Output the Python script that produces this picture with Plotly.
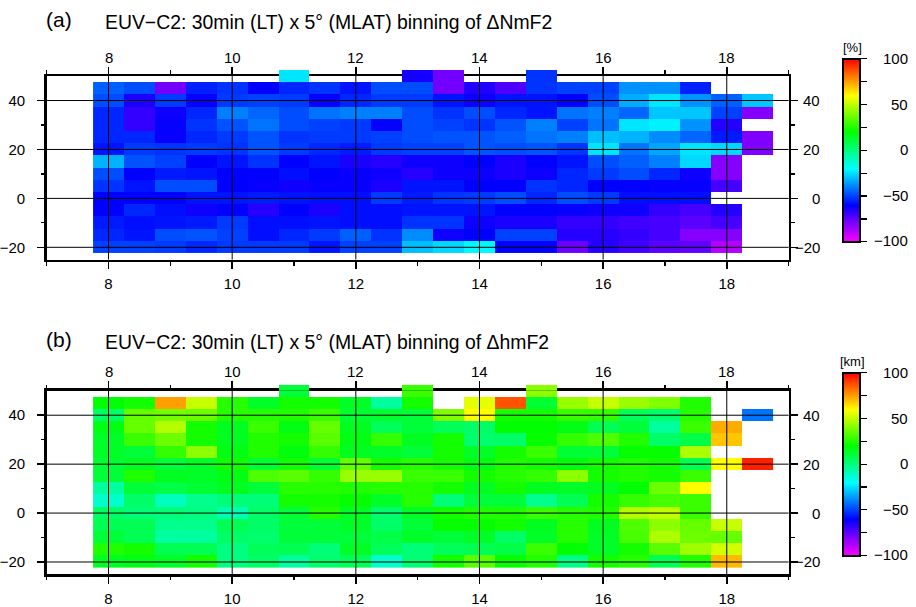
import plotly.graph_objects as go

# ---------------- data ----------------
LT = [8.0, 8.5, 9.0, 9.5, 10.0, 10.5, 11.0, 11.5, 12.0, 12.5, 13.0,
      13.5, 14.0, 14.5, 15.0, 15.5, 16.0, 16.5, 17.0, 17.5, 18.0, 18.5]
MLAT = [-20, -15, -10, -5, 0, 5, 10, 15, 20, 25, 30, 35, 40, 45, 50]
N = None

# rows follow MLAT (bottom -> top), columns follow LT
dNmF2 = [
    [-50, -50, -51, -54, -51, -51, -51, -57, -50, -50, -30, -26, -21, -60, -60, -77, -66, -70, -74, -75, -88, N],
    [-54, -57, -48, -47, -50, -58, -54, -51, -45, -52, -38, -62, -60, -50, -50, -66, -66, -68, -71, -81, -81, N],
    [-56, -58, -57, -56, -51, -58, -58, -57, -58, -58, -52, -52, -62, -64, -64, -68, -68, -70, -71, -74, -71, N],
    [-60, -54, -58, -62, -60, -66, -60, -64, -58, -58, -57, -57, -57, -60, -60, -61, -62, -62, -68, -71, -66, N],
    [-60, -60, -60, -57, -57, -56, -57, -58, -58, -51, -56, -52, -51, -48, -54, -48, -51, -58, -58, -58, N, N],
    [-52, -57, -48, -48, -60, -61, -62, -61, -61, -64, -57, -57, -60, -60, -52, -54, -60, -60, -61, -61, -71, N],
    [-48, -60, -56, -57, -60, -60, -58, -60, -61, -62, -66, -62, -62, -64, -62, -54, -51, -48, -54, -62, -81, N],
    [-32, -47, -50, -60, -57, -52, -60, -57, -64, -66, -62, -62, -60, -64, -60, -57, -48, -45, -40, -26, -81, N],
    [-57, -51, -52, -51, -52, -47, -51, -54, -56, -51, -50, -50, -47, -48, -47, -52, -24, -42, -34, -24, -26, -80],
    [-54, -54, -61, -54, -51, -47, -52, -51, -51, -50, -48, -47, -47, -45, -42, -40, -30, -32, -38, -44, -56, -80],
    [-54, -68, -61, -52, -47, -42, -48, -50, -51, -61, -48, -50, -52, -47, -40, -50, -42, -24, -22, -37, -66, N],
    [-54, -68, -62, -54, -40, -44, -48, -42, -40, -40, -48, -52, -48, -54, -57, -42, -40, -44, -29, -29, -50, -81],
    [-48, -64, -51, -61, -51, -50, -51, -61, -54, -51, -51, -57, -62, -57, -57, -60, -48, -33, -24, -37, -45, -29],
    [-45, -48, -78, -55, -52, -60, -54, -52, -57, -48, -48, -78, -65, -72, -52, -50, -50, -37, -37, -55, N, N],
    [N, N, N, N, N, N, -24, N, N, N, -63, -78, N, N, -52, N, N, N, N, N, N, N],
]

dhmF2 = [
    [15, 17, 14, 23, 0, 4, -5, 3, 6, -12, 2, 23, 34, 21, 25, -1, 23, 26, 7, 25, 71, N],
    [25, 23, 7, 7, 0, 6, 7, 1, 14, 6, 1, 6, 7, 9, 29, 20, 14, 23, 34, 45, 53, N],
    [11, 7, -5, -5, 4, 3, 11, 11, 11, 9, 14, 11, 14, 4, 14, 26, 14, 31, 47, 37, 36, N],
    [7, 7, -2, -2, 7, 4, 11, 11, 14, 4, 11, 21, 21, 23, 15, 26, 15, 32, 42, 36, 51, N],
    [4, 1, 1, 0, -8, 4, 11, 26, 14, 3, 14, 23, 25, 25, 29, 26, 25, 48, 50, 29, N, N],
    [-12, 4, -10, -2, 1, 1, 23, 23, 21, 14, 26, 1, 11, 11, -2, 7, 23, 28, 31, 29, N, N],
    [-5, 11, 9, 12, 15, 11, 26, 26, 25, 26, 26, 23, 15, 23, 15, 14, 15, 20, 37, 60, N, N],
    [11, 25, 15, 14, 17, 32, 34, 28, 44, 44, 29, 29, 23, 26, 28, 42, 23, 25, 23, 29, N, N],
    [12, 15, 11, 14, 23, 12, 23, 12, 36, 23, 26, 23, 17, 25, 23, 18, 23, 25, 23, 7, 60, 95],
    [14, 11, 28, 42, 17, 25, 18, 28, 15, 14, 11, 23, 14, 23, 29, 12, 11, 21, 21, 47, N, N],
    [14, 29, 37, 23, 15, 25, 23, 34, 17, 28, 15, 23, 3, 4, 21, 28, 32, 25, 4, 9, 69, N],
    [17, 36, 48, 23, 15, 29, 17, 36, 15, 6, 11, 6, 4, 20, 20, 17, 7, 11, -5, 29, 73, N],
    [4, 36, 38, 37, 26, 26, 25, 29, 12, 13, 11, 40, 60, 23, 23, 29, 28, 6, 3, 26, N, -42],
    [20, 23, 75, 51, 26, 14, 23, 23, 14, -5, 23, N, 56, 87, 12, 44, 51, 44, 40, 25, N, N],
    [N, N, N, N, N, N, 11, N, N, N, 29, N, N, N, 42, N, N, N, N, N, N, N],
]

X_TICKS = [8, 10, 12, 14, 16, 18]
X_MINOR = [7, 9, 11, 13, 15, 17, 19]
Y_TICKS = [-20, 0, 20, 40]
Y_MINOR = [-10, 10, 30]
CB_TICKS = [-100, -75, -50, -25, 0, 25, 50, 75, 100]
CB_LABELS = [-100, -50, 0, 50, 100]
TITLE_A = "EUV\u2212C2: 30min (LT) x 5\u00b0 (MLAT) binning of \u0394NmF2"
TITLE_B = "EUV\u2212C2: 30min (LT) x 5\u00b0 (MLAT) binning of \u0394hmF2"

# GMT "rainbow" palette
RAINBOW = [[0.0, "#ff00ff"], [0.2, "#0000ff"], [0.4, "#00ffff"],
           [0.6, "#00ff00"], [0.8, "#ffff00"], [1.0, "#ff0000"]]

# ---------------- layout geometry (pixels) ----------------
W, H = 916, 607
FX0, FX1 = 46.7, 788.6
PANELS = [dict(top=76.7, bot=261.7, cb_top=59.3, unit="[%]", z=dNmF2,
               tag="(a)", title=TITLE_A, tag_y=20, title_y=22),
          dict(top=394.0, bot=579.0, cb_top=375.7, unit="[km]", z=dhmF2,
               tag="(b)", title=TITLE_B, tag_y=342, title_y=345)]
YR = [-25, 50]
OVER = 2.5  # degrees visible above the frame
CB_LEN = 183.4
FONT = "Liberation Sans, Arial, Helvetica, sans-serif"


def py(p):
    return 1 - p / H


def px(p):
    return p / W


fig = go.Figure()
layout = dict(width=W, height=H, margin=dict(l=0, r=0, t=0, b=0),
              paper_bgcolor="white", plot_bgcolor="white",
              font=dict(family=FONT, size=15, color="black"),
              showlegend=False)
shapes, annotations = [], []

for i, P in enumerate(PANELS):
    n = i + 1
    xa, ya = ("x", "y") if n == 1 else ("x2", "y2")
    xo, yo = ("x3", "y3") if n == 1 else ("x4", "y4")
    xk = "xaxis" if n == 1 else "xaxis2"
    yk = "yaxis" if n == 1 else "yaxis2"
    xok = "xaxis3" if n == 1 else "xaxis4"
    yok = "yaxis3" if n == 1 else "yaxis4"
    ppd = (P["bot"] - P["top"]) / (YR[1] - YR[0])

    fig.add_trace(go.Heatmap(
        x=LT, y=MLAT, z=P["z"], xaxis=xa, yaxis=ya,
        colorscale=RAINBOW, zmin=-100, zmax=100, hoverongaps=False,
        colorbar=dict(x=px(843), xanchor="left", xpad=0, ypad=0,
                      y=py(P["cb_top"]), yanchor="top",
                      lenmode="pixels", len=CB_LEN, thickness=17,
                      outlinewidth=2, outlinecolor="black",
                      tickvals=CB_TICKS, showticklabels=False,
                      ticks="outside", ticklen=6, tickwidth=1.2,
                      tickcolor="black")))
    # cells of the top bin that stick out above the frame
    fig.add_trace(go.Heatmap(
        x=LT, y=MLAT, z=P["z"], xaxis=xo, yaxis=yo, showscale=False,
        colorscale=RAINBOW, zmin=-100, zmax=100, hoverongaps=False))

    dom_x = [px(FX0), px(FX1)]
    dom_y = [py(P["bot"]), py(P["top"])]
    layout[xk] = dict(domain=dom_x, range=[7, 19], anchor=ya,
                      tickvals=X_TICKS, ticks="outside", ticklen=7,
                      tickwidth=1.5, tickcolor="black",
                      minor=dict(tickvals=X_MINOR, ticks="outside",
                                 ticklen=3.5, tickwidth=1.2, tickcolor="black"),
                      showline=True, linewidth=2.5, linecolor="black",
                      mirror="allticks", showgrid=False, zeroline=False,
                      ticklabelstandoff=2,
                      tickfont=dict(size=15, family=FONT, color="black"))
    layout[yk] = dict(domain=dom_y, range=YR, anchor=xa,
                      tickvals=Y_TICKS, ticks="outside", ticklen=7,
                      tickwidth=1.5, tickcolor="black",
                      minor=dict(tickvals=Y_MINOR, ticks="outside",
                                 ticklen=3.5, tickwidth=1.2, tickcolor="black"),
                      showline=True, linewidth=2.5, linecolor="black",
                      mirror="allticks", showgrid=False, zeroline=False,
                      ticklabelstandoff=9,
                      tickfont=dict(size=15, family=FONT, color="black"))
    layout[xok] = dict(domain=dom_x, range=[7, 19], anchor=yo, visible=False)
    layout[yok] = dict(domain=[py(P["top"]), py(P["top"] - OVER * ppd)],
                       range=[YR[1], YR[1] + OVER], anchor=xo, visible=False)

    # grid lines drawn on top of the cells
    for v in X_TICKS:
        shapes.append(dict(type="line", xref=xa, yref=f"{ya} domain",
                           x0=v, x1=v, y0=0, y1=1, layer="above",
                           line=dict(color="black", width=1)))
    for v in Y_TICKS:
        shapes.append(dict(type="line", xref=f"{xa} domain", yref=ya,
                           x0=0, x1=1, y0=v, y1=v, layer="above",
                           line=dict(color="black", width=1)))

    # top tick labels
    for v in X_TICKS:
        annotations.append(dict(x=v, xref=xa, y=py(P["top"] - 19), yref="paper",
                                text=str(v), showarrow=False, xanchor="center",
                                yanchor="middle", font=dict(size=15)))
    # right tick labels
    for v in Y_TICKS:
        lab = str(v).replace("-", "\u2212")
        annotations.append(dict(x=px(822), xref="paper", y=v, yref=ya,
                                text=lab, showarrow=False, xanchor="right",
                                yanchor="middle", font=dict(size=15)))
    # colour bar labels
    for v in CB_LABELS:
        yy = P["cb_top"] + (100 - v) / 200 * CB_LEN
        lab = str(v).replace("-", "\u2212")
        annotations.append(dict(x=px(910), xref="paper", y=py(yy), yref="paper",
                                text=lab, showarrow=False, xanchor="right",
                                yanchor="middle", font=dict(size=15)))
    annotations.append(dict(x=px(852), xref="paper", y=py(P["cb_top"] - 11),
                            yref="paper", text=P["unit"], showarrow=False,
                            xanchor="center", yanchor="middle",
                            font=dict(size=13)))
    # panel tag and title
    annotations.append(dict(x=px(44), xref="paper", y=py(P["tag_y"]), yref="paper",
                            text=P["tag"], showarrow=False, xanchor="left",
                            yanchor="middle", font=dict(size=21)))
    annotations.append(dict(x=px(103), xref="paper", y=py(P["title_y"]),
                            yref="paper", text=P["title"], showarrow=False,
                            xanchor="left", yanchor="middle",
                            font=dict(size=19.4)))

layout["shapes"] = shapes
layout["annotations"] = annotations
fig.update_layout(**layout)
fig.write_html("out.html",
               config={"displayModeBar": False, "staticPlot": True},
               post_script="document.body.style.margin='0';"
                           "document.body.style.overflow='hidden';")
